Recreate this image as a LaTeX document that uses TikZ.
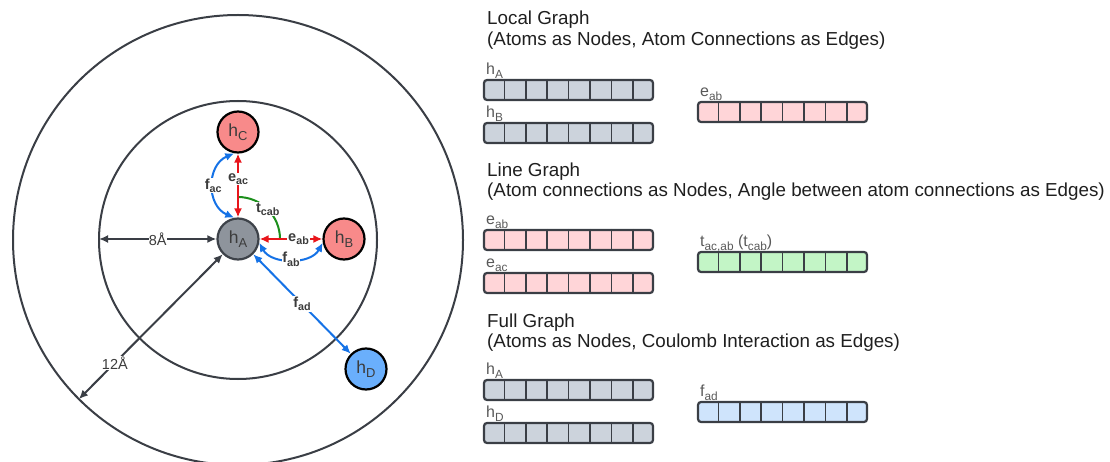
\documentclass[tikz,border=0pt]{standalone}
\usepackage{fontspec}
\setmainfont{Liberation Sans}
\usetikzlibrary{arrows.meta,calc}

\definecolor{ringgray}{HTML}{3A3E45}
\definecolor{atomgray}{HTML}{8E949C}
\definecolor{atomline}{HTML}{3D4249}
\definecolor{atomred}{HTML}{F88A8A}
\definecolor{atomblue}{HTML}{6AAFFC}
\definecolor{edgered}{HTML}{E8151B}
\definecolor{edgeblue}{HTML}{1572E6}
\definecolor{edgegreen}{HTML}{1C8F1C}
\definecolor{txtgray}{HTML}{3C3C3C}
\definecolor{graycell}{HTML}{CCD3DC}
\definecolor{pinkcell}{HTML}{FFD5D8}
\definecolor{greencell}{HTML}{C3F5C6}
\definecolor{bluecell}{HTML}{CFE4FC}

\newcommand{\lowidx}[1]{\raisebox{-0.22em}{\scalebox{0.74}{#1}}}

\tikzset{
  atom/.style={circle, draw=black, line width=2.2pt, minimum size=41pt, inner sep=0pt,
    text=txtgray, font=\fontsize{17.5}{17.5}\selectfont},
  ring/.style={draw=ringgray, line width=2pt},
  dimarrow/.style={draw=ringgray, line width=2pt, <->},
  redarrow/.style={draw=edgered, line width=2pt, <->},
  bluearrow/.style={draw=edgeblue, line width=2pt, <->},
  greenarc/.style={draw=edgegreen, line width=2pt},
  elabel/.style={fill=white, inner sep=0.8pt, text=txtgray, font=\bfseries\fontsize{14.5}{15}\selectfont},
  dimlabel/.style={fill=white, inner sep=0.3pt, text=txtgray, font=\fontsize{14.5}{15}\selectfont},
  gtitle/.style={anchor=base west, inner sep=0pt, text=black!88, font=\fontsize{18.8}{20}\selectfont},
  vecbar/.style={rectangle, draw=ringgray, line width=2.2pt, rounded corners=3pt,
    minimum width=169pt, minimum height=20pt, inner sep=0pt},
  barlabel/.style={anchor=base west, inner sep=0pt, text=black!65, font=\fontsize{16}{16}\selectfont},
}

\begin{document}
\begin{tikzpicture}[x=1pt, y=-1pt, >={Latex[length=9pt,width=8pt]}]
\useasboundingbox (0,0) rectangle (1110,462);

% atoms
\node[atom, fill=atomgray, draw=atomline] (hA) at (238,239) {h\lowidx{A}};
\node[atom, fill=atomred] (hC) at (238,132) {h\lowidx{C}};
\node[atom, fill=atomred] (hB) at (344,239) {h\lowidx{B}};
\node[atom, fill=atomblue] (hD) at (366,369) {h\lowidx{D}};

% cut-off spheres
\draw[ring] (238,240) circle[radius=139pt];
\draw[ring] (238,240) circle[radius=225pt];
\coordinate (r8) at (99,239);
\path (238,240) ++(-135:225pt) coordinate (r12);

\draw[dimarrow] (r8) -- node[dimlabel] {8Å} (hA.west);
\draw[dimarrow] (r12) -- node[dimlabel, pos=0.25] {12Å} (hA.-135);

% angle
\draw[greenarc] (hA.center) ++(0,-42) arc[start angle=90, end angle=0, radius=42pt];
\path (hA.center) ++(45:42pt) node[elabel] (tcab) {t\lowidx{cab}};

% connections
\draw[redarrow] (hA.north) -- node[elabel, pos=0.6] {e\lowidx{ac}} (hC.south);
\draw[redarrow] (hA.east) -- node[elabel, pos=0.62] {e\lowidx{ab}} (hB.west);
\draw[bluearrow] (hA.100) .. controls +(-28,-12) and +(-28,12) .. node[elabel] {f\lowidx{ac}} (hC.260);
\draw[bluearrow] (hA.-10) .. controls +(12,22) and +(-12,22) .. node[elabel] {f\lowidx{ab}} (hB.190);
\draw[bluearrow] (hA.-45) -- node[elabel] {f\lowidx{ad}} (hD.135);

% titles
\node[gtitle] (localT) at (487,25) {Local Graph};
\node[gtitle] (localS) at (487,46) {(Atoms as Nodes, Atom Connections as Edges)};
\node[gtitle] (lineT) at (487,177) {Line Graph};
\node[gtitle] (lineS) at (487,197) {(Atom connections as Nodes, Angle between atom connections as Edges)};
\node[gtitle] (fullT) at (487,327) {Full Graph};
\node[gtitle] (fullS) at (487,347) {(Atoms as Nodes, Coulomb Interaction as Edges)};

% feature vectors
\foreach \bx/\by/\bc/\bl [count=\n] in {
    483/79/graycell/{h\lowidx{A}}, 483/122/graycell/{h\lowidx{B}},
    697/101/pinkcell/{e\lowidx{ab}},
    483/229/pinkcell/{e\lowidx{ab}}, 483/272/pinkcell/{e\lowidx{ac}},
    697/251/greencell/{t\lowidx{ac,ab} (t\lowidx{cab})},
    483/379/graycell/{h\lowidx{A}}, 483/422/graycell/{h\lowidx{D}},
    697/401/bluecell/{f\lowidx{ad}}} {
  \node[vecbar, fill=\bc] (v\n) at (\bx+85.5,\by+11) {};
  \node[barlabel] (l\n) at (\bx+3,\by-4.5) {\bl};
  \foreach \i in {1,...,7}
    \draw[ringgray, line width=1.6pt] ($(v\n.north west)!\i/8!(v\n.north east)$) -- ($(v\n.south west)!\i/8!(v\n.south east)$);
}
\end{tikzpicture}
\end{document}
